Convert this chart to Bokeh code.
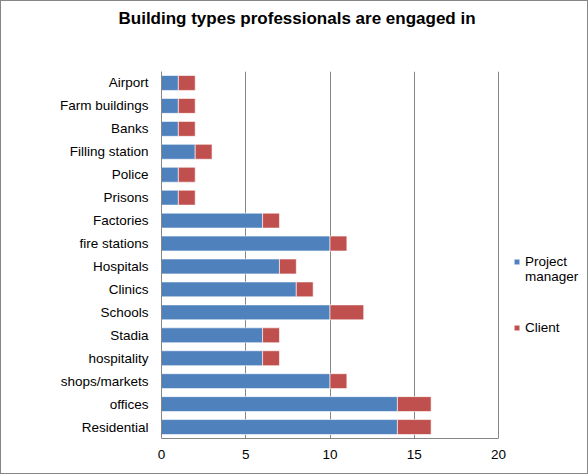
from bokeh.plotting import figure
from bokeh.layouts import column
from bokeh.models import (ColumnDataSource, FactorRange, Range1d, Legend, LegendItem,
                          FixedTicker, Title)
from bokeh.embed import file_html
from bokeh.resources import INLINE

# Building types, listed top to bottom
building_types = ["Airport", "Farm buildings", "Banks", "Filling station", "Police",
                  "Prisons", "Factories", "fire stations", "Hospitals", "Clinics",
                  "Schools", "Stadia", "hospitality", "shops/markets", "offices",
                  "Residential"]
project_manager = [1, 1, 1, 2, 1, 1, 6, 10, 7, 8, 10, 6, 6, 10, 14, 14]
client = [1, 1, 1, 1, 1, 1, 1, 1, 1, 1, 2, 1, 1, 1, 2, 2]
x_ticks = [0, 5, 10, 15, 20]

FONT = "Liberation Sans"
BLUE = "#4F81BD"
RED = "#C0504D"
GREY = "#868686"

source = ColumnDataSource(dict(
    building=building_types,
    pm=project_manager,
    client=client,
))

# The frame runs on to the right edge so the legend can sit beside the bars;
# the axis itself stops at 20.
p = figure(
    width=586, height=472, margin=1,
    y_range=FactorRange(*building_types[::-1]),
    x_range=Range1d(0, 25.28),
    output_backend="svg", toolbar_location=None,
    min_border_left=160, min_border_right=0,
    min_border_top=69, min_border_bottom=35,
)
p.styles = {"background-color": "white"}

renderers = p.hbar_stack(["pm", "client"], y="building", height=0.65,
                         color=[BLUE, RED], line_color="white", line_width=0.6,
                         source=source)

# empty, invisible renderer used for the second line of a legend label
blank = p.hbar(y=[], right=[], height=0.5, fill_alpha=0, line_alpha=0)

# Title: a blank spacer title sits between the frame and the heading
p.title = None
p.add_layout(Title(text=" ", text_font_size="10px", standoff=26), "above")
p.add_layout(Title(text="Building types professionals are engaged in",
                   text_font=FONT, text_font_size="17px", text_font_style="bold",
                   text_color="black", align="left", offset=-43, standoff=10),
             "above")

# Axes
p.xaxis.ticker = FixedTicker(ticks=x_ticks)
p.xaxis.bounds = (0, 20)
for ax in (p.xaxis[0], p.yaxis[0]):
    ax.major_tick_line_color = None
    ax.minor_tick_line_color = None
    ax.axis_line_color = GREY
    ax.major_label_text_font = FONT
    ax.major_label_text_font_size = "13.5px"
    ax.major_label_text_color = "black"
p.xaxis.major_label_standoff = 5
p.yaxis.major_label_standoff = 7

p.xgrid.grid_line_color = GREY
p.ygrid.grid_line_color = None
p.outline_line_color = None


def make_legend(items, location):
    lg = Legend(items=items, location=location)
    lg.glyph_width = 7
    lg.glyph_height = 7
    lg.label_text_font = FONT
    lg.label_text_font_size = "13.5px"
    lg.label_text_color = "black"
    lg.label_standoff = 5
    lg.label_height = 14
    lg.spacing = 0
    lg.border_line_color = None
    lg.background_fill_alpha = 0
    lg.padding = 0
    lg.margin = 0
    return lg


p.add_layout(make_legend([
    LegendItem(label="Project", renderers=[renderers[0]]),
    LegendItem(label="manager", renderers=[blank]),
], (352, 154)))
p.add_layout(make_legend([
    LegendItem(label="Client", renderers=[renderers[1]]),
], (352, 103)))

# grey background showing through the 1px margin gives the chart border
page = column(p, styles={"background-color": GREY})

open("out.html", "w").write(file_html(page, INLINE))
